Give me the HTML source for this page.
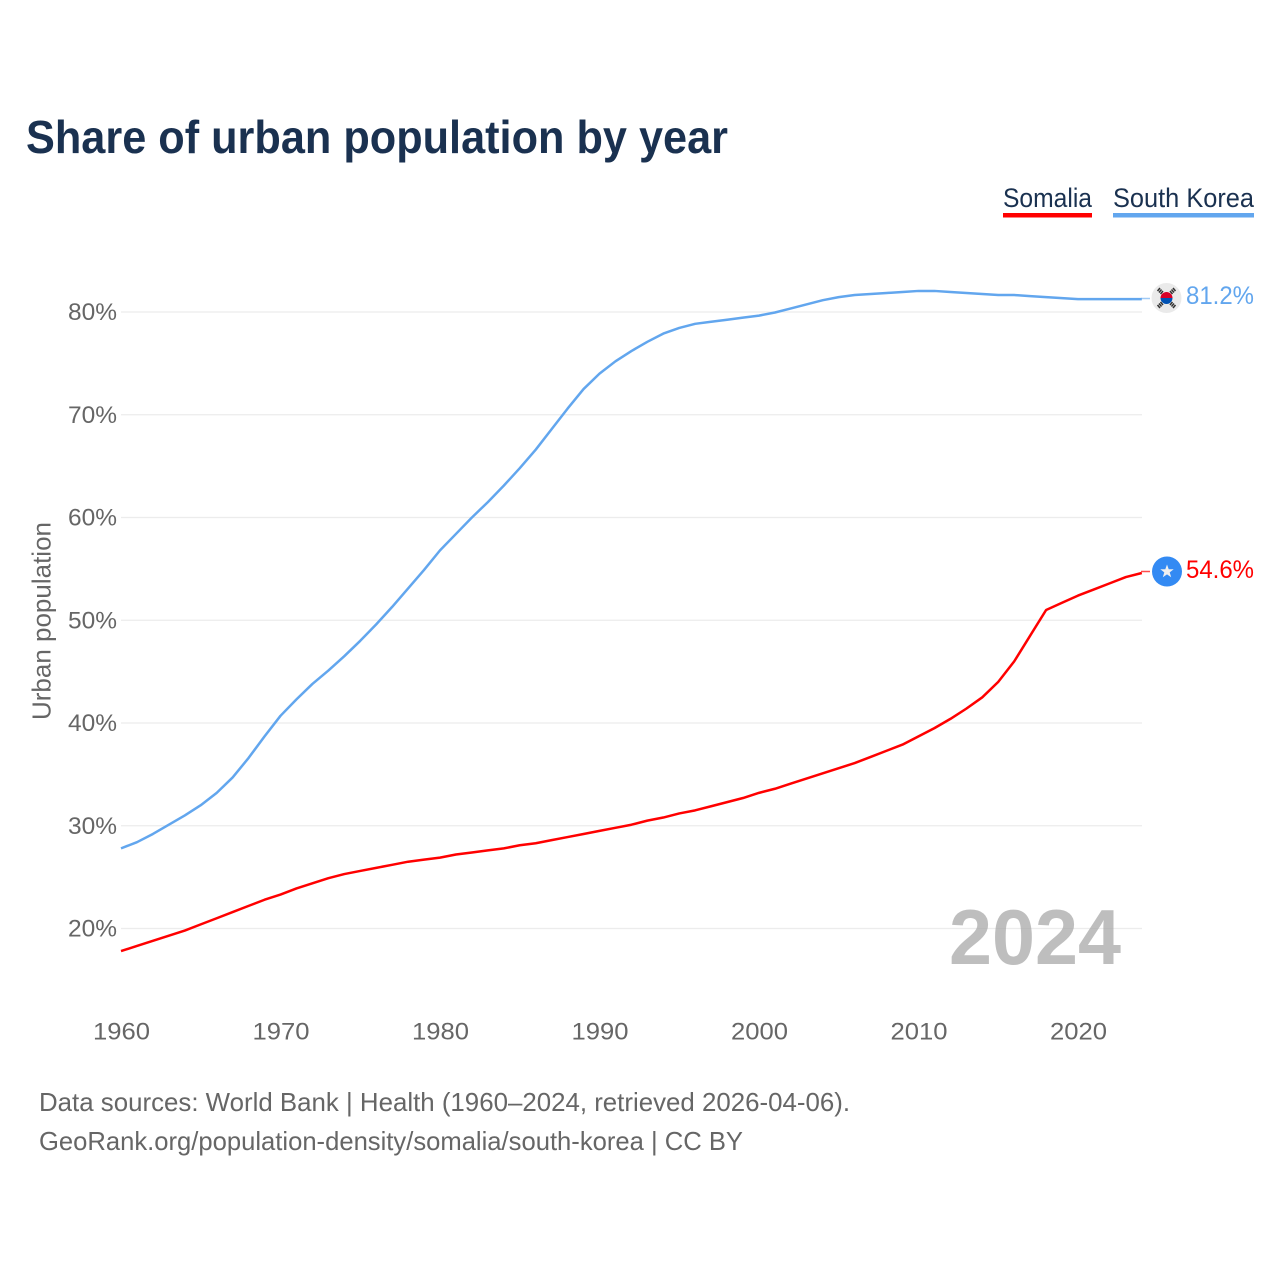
<!DOCTYPE html>
<html lang="en">
<head>
<meta charset="utf-8">
<title>Share of urban population by year</title>
<style>
html,body{margin:0;padding:0;background:#fff;width:1280px;height:1280px;overflow:hidden}
svg{display:block}
text{font-family:"Liberation Sans",sans-serif}
</style>
</head>
<body>
<svg id="chart" width="1280" height="1280" viewBox="0 0 1280 1280" xmlns="http://www.w3.org/2000/svg">
  <text x="26" y="153" font-size="46" font-weight="700" fill="#1a3150" textLength="702" lengthAdjust="spacingAndGlyphs">Share of urban population by year</text>

  <g>
    <g>
      <text x="1003" y="207" font-size="27" fill="#1a3150" textLength="89" lengthAdjust="spacingAndGlyphs">Somalia</text>
      <rect x="1003" y="213" width="89" height="4.500" fill="#ff0000"/>
    </g>
    <g>
      <text x="1113" y="207" font-size="27" fill="#1a3150" textLength="141" lengthAdjust="spacingAndGlyphs">South Korea</text>
      <rect x="1113" y="213" width="141" height="4.500" fill="#62a6ee"/>
    </g>
  </g>

  <g id="grid"></g>
  <g id="yticks"></g>
  <g id="xticks"></g>
  <text transform="translate(50.5,720) rotate(-90)" font-size="26" fill="#666666" textLength="198" lengthAdjust="spacingAndGlyphs">Urban population</text>

  <text x="949" y="964" font-size="78" font-weight="700" fill="#a8a8a8" fill-opacity="0.75" textLength="172" lengthAdjust="spacingAndGlyphs">2024</text>

  <g id="series"></g>

  <g>
    <line x1="1141" y1="298.5" x2="1150" y2="298.5" stroke="#62a6ee" stroke-width="1.5" stroke-opacity="0.6"/>
    <g>
      <circle cx="1166.5" cy="298" r="15" fill="#eaeaea"/>
      <path d="M1160.500 298a6 6 0 0 1 12 0z" fill="#d80027"/>
      <path d="M1160.500 298a6 6 0 0 0 12 0z" fill="#0052b4"/>
      <g stroke="#333333" stroke-width="1.5">
        <path d="M1157.500 291l2.500-3M1159 292.500l2.500-3M1160.500 294l2.500-3"/>
        <path d="M1170 291l2.500 3M1171.500 289.500l2.500 3M1173 288l2.500 3"/>
        <path d="M1157.500 305l2.500 3M1159 303.500l2.500 3M1160.500 302l2.500 3"/>
        <path d="M1170 305l2.500-3M1171.500 306.500l2.500-3M1173 308l2.500-3"/>
      </g>
    </g>
    <text x="1186" y="304" font-size="25" fill="#62a6ee" textLength="68" lengthAdjust="spacingAndGlyphs">81.2%</text>
  </g>

  <g>
    <line x1="1141" y1="571.500" x2="1150" y2="571.500" stroke="#ff0000" stroke-width="1.5" stroke-opacity="0.7"/>
    <g>
      <circle cx="1167" cy="571.500" r="15" fill="#338af3"/>
      <polygon points="1167,564.500 1168.700,569.300 1173.700,569.300 1169.700,572.400 1171.200,577.300 1167,574.400 1162.800,577.300 1164.300,572.400 1160.300,569.300 1165.300,569.300" fill="#f0f0f0"/>
    </g>
    <text x="1186" y="578" font-size="25" fill="#ff0000" textLength="68" lengthAdjust="spacingAndGlyphs">54.6%</text>
  </g>

  <g>
    <text x="39" y="1111" font-size="26" fill="#666666" textLength="811" lengthAdjust="spacingAndGlyphs">Data sources: World Bank | Health (1960–2024, retrieved 2026-04-06).</text>
    <text x="39" y="1150" font-size="26" fill="#666666" textLength="704" lengthAdjust="spacingAndGlyphs">GeoRank.org/population-density/somalia/south-korea | CC BY</text>
  </g>
</svg>
<script>
const firstYear = 1960;
const xTickYears = [1960, 1970, 1980, 1990, 2000, 2010, 2020];
const yTickValues = [20, 30, 40, 50, 60, 70, 80];
const southKorea = [27.8,28.4,29.2,30.1,31.0,32.0,33.2,34.7,36.6,38.7,40.7,42.3,43.8,45.1,46.5,48.0,49.6,51.3,53.1,54.9,56.8,58.4,60.0,61.5,63.1,64.8,66.6,68.6,70.6,72.5,74.0,75.2,76.2,77.1,77.9,78.45,78.85,79.05,79.25,79.45,79.65,79.95,80.35,80.75,81.15,81.45,81.65,81.75,81.85,81.95,82.05,82.05,81.95,81.85,81.75,81.65,81.65,81.55,81.45,81.35,81.25,81.25,81.25,81.25,81.25];
const somalia = [17.8,18.3,18.8,19.3,19.8,20.4,21.0,21.6,22.2,22.8,23.3,23.9,24.4,24.9,25.3,25.6,25.9,26.2,26.5,26.7,26.9,27.2,27.4,27.6,27.8,28.1,28.3,28.6,28.9,29.2,29.5,29.8,30.1,30.5,30.8,31.2,31.5,31.9,32.3,32.7,33.2,33.6,34.1,34.6,35.1,35.6,36.1,36.7,37.3,37.9,38.7,39.5,40.4,41.4,42.5,44.0,46.0,48.5,51.0,51.7,52.4,53.0,53.6,54.2,54.6];

const NS = 'http://www.w3.org/2000/svg';
const xScale = year => 121 + (year - 1960) * 15.95;
const yScale = value => 312 - (value - 80) * 10.275;

function make(tag, attrs, parent, content) {
  const el = document.createElementNS(NS, tag);
  for (const k in attrs) el.setAttribute(k, attrs[k]);
  if (content !== undefined) el.textContent = content;
  parent.appendChild(el);
  return el;
}

const grid = document.getElementById('grid');
const yticks = document.getElementById('yticks');
const xticks = document.getElementById('xticks');
const seriesGroup = document.getElementById('series');

yTickValues.forEach(v => {
  const line = make('line', {x1: 121, x2: 1142, y1: yScale(v), y2: yScale(v), stroke: '#ececec', 'stroke-width': 1.3}, grid);
  
  
  const label = make('text', {x: 68, y: yScale(v) + 8, 'font-size': 24, fill: '#666666', textLength: 49, lengthAdjust: 'spacingAndGlyphs'}, yticks, v + '%');
  
  
});

xTickYears.forEach(y => {
  const label = make('text', {x: xScale(y) + 0.5, y: 1039.5, 'font-size': 24, fill: '#666666', 'text-anchor': 'middle', textLength: 57, lengthAdjust: 'spacingAndGlyphs'}, xticks, String(y));
  
  
});

function pathFor(values) {
  return values.map((v, i) => (i ? 'L' : 'M') + xScale(firstYear + i).toFixed(2) + ' ' + yScale(v).toFixed(2)).join('');
}

const koreaLine = make('path', {d: pathFor(southKorea), fill: 'none', stroke: '#62a6ee', 'stroke-width': 2.5, 'stroke-linejoin': 'round'}, seriesGroup);



const somaliaLine = make('path', {d: pathFor(somalia), fill: 'none', stroke: '#ff0000', 'stroke-width': 2.5, 'stroke-linejoin': 'round'}, seriesGroup);


</script>
</body>
</html>
